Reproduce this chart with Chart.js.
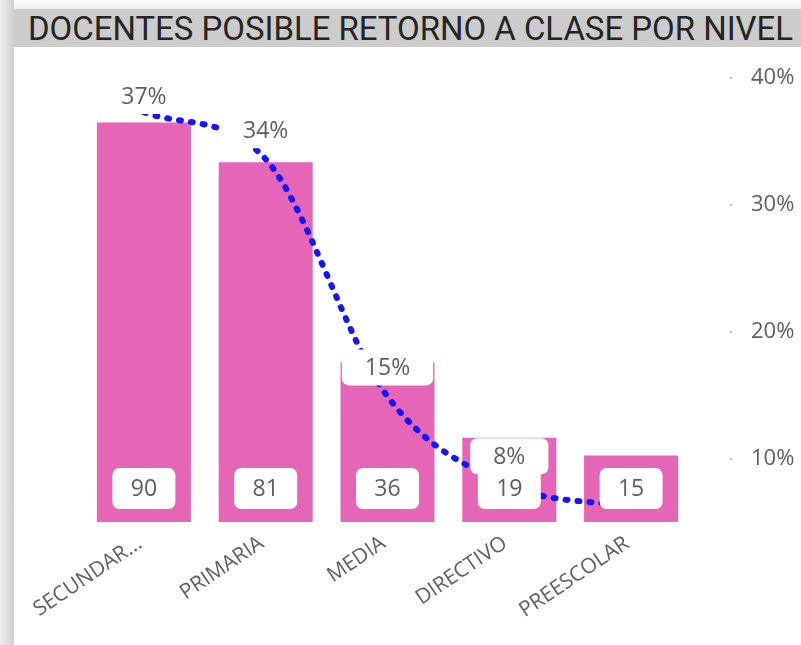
<!DOCTYPE html>
<html>
<head>
<meta charset="utf-8">
<script src="https://cdn.jsdelivr.net/npm/chart.js@4.4.1/dist/chart.umd.min.js"></script>
<style>
  html, body { margin: 0; padding: 0; background: #fff; }
  body { width: 801px; height: 645px; position: relative; overflow: hidden; }
  #shadowLeft { position: absolute; left: 0; top: 0; width: 14px; height: 645px;
    background: linear-gradient(to right, #ededed, #cfcfcf); }
  #shadowTop { position: absolute; left: 14px; top: 0; width: 787px; height: 9px;
    background: linear-gradient(to bottom, #fbfbfb, #f1f1f1); }
  #titleBar { position: absolute; left: 14px; top: 9px; width: 787px; height: 38px;
    background: #cccccc; overflow: hidden; }
  #titleText { position: absolute; left: 14px; top: 1px; white-space: nowrap;
    font-family: Roboto, "DejaVu Sans", sans-serif; font-size: 34px; line-height: 36px;
    color: #252423; transform-origin: 0 0; }
  #wrap { position: absolute; left: 14px; top: 47px; width: 787px; height: 598px; }
</style>
</head>
<body>
<div id="shadowLeft"></div>
<div id="shadowTop"></div>
<div id="titleBar"><div id="titleText">DOCENTES POSIBLE RETORNO A CLASE POR NIVEL</div></div>
<div id="wrap"><canvas id="myChart"></canvas></div>
<script>
// data
const niveles = ["SECUNDAR...", "PRIMARIA", "MEDIA", "DIRECTIVO", "PREESCOLAR"];
const docentes = [90, 81, 36, 19, 15];
const porcentaje = [37.3, 33.6, 14.9, 7.9, 6.2];
const pctTicks = [10, 20, 30, 40];
const pctSinEtiqueta = [4];

// squeeze title to the width of the original
let t = document.getElementById("titleText");
t.style.transform = "scaleX(" + (765 / t.getBoundingClientRect().width) + ")";

const labelFont = "23px 'Open Sans', 'Segoe UI', sans-serif";
const labelColor = "#605e5c";

function box(ctx, cx, cy, w, h) {
  ctx.fillStyle = "#ffffff";
  ctx.beginPath();
  ctx.roundRect(cx - w / 2, cy - h / 2, w, h, 7);
  ctx.fill();
}

const valueBoxes = {
  id: "valueBoxes",
  afterDatasetsDraw(chart) {
    const ctx = chart.ctx;
    const area = chart.chartArea;
    ctx.save();
    ctx.font = labelFont;
    ctx.textAlign = "center";
    ctx.textBaseline = "middle";
    // bar values, inside base
    chart.getDatasetMeta(1).data.forEach((bar, i) => {
      const cy = area.bottom - 13 - 20.5;
      box(ctx, bar.x, cy, 63, 41);
      ctx.fillStyle = labelColor;
      ctx.fillText(docentes[i], bar.x, cy + 1);
    });
    // line percentages, above point
    chart.getDatasetMeta(0).data.forEach((pt, i) => {
      if (pctSinEtiqueta.includes(i)) return;
      const txt = Math.round(porcentaje[i]) + "%";
      const w = ctx.measureText(txt).width + 46;
      const cy = Math.max(pt.y - 29, area.top + 18);
      box(ctx, pt.x, cy, w, 36);
      ctx.fillStyle = labelColor;
      ctx.fillText(txt, pt.x, cy + 1);
    });
    // small tick dots on the right axis
    const y2 = chart.scales.y2;
    ctx.fillStyle = "#bdbdbd";
    pctTicks.forEach(v => {
      ctx.fillRect(Math.round(area.right + 38), Math.round(y2.getPixelForValue(v)) - 1, 2, 2);
    });
    ctx.restore();
  }
};

let myChart = document.getElementById("myChart").getContext("2d");
let nivelChart = new Chart(myChart, {
  data: {
    labels: niveles,
    datasets: [
      {
        type: "line",
        label: "porcentaje",
        data: porcentaje,
        yAxisID: "y2",
        borderColor: "#1414ff",
        borderWidth: 6,
        borderDash: [2, 10],
        borderCapStyle: "round",
        cubicInterpolationMode: "monotone",
        pointRadius: 0,
        fill: false,
        order: 0,
      },
      {
        type: "bar",
        label: "docentes",
        data: docentes,
        yAxisID: "y",
        backgroundColor: "#e566b7",
        categoryPercentage: 1,
        barPercentage: 0.772,
        order: 1,
      },
    ],
  },
  options: {
    responsive: true,
    maintainAspectRatio: false,
    animation: false,
    layout: { padding: { left: 69, top: 31, right: 0, bottom: 0 } },
    plugins: {
      legend: { display: false },
      tooltip: { enabled: false },
    },
    scales: {
      x: {
        grid: { display: false },
        border: { display: false },
        ticks: {
          color: labelColor,
          font: { family: "'Open Sans', 'Segoe UI', sans-serif", size: 21 },
          minRotation: 34,
          maxRotation: 34,
          autoSkip: false,
          padding: 1,
          labelOffset: -4,
        },
        afterFit(scale) { scale.height = 123; },
      },
      y: {
        display: false,
        min: 0,
        max: 100,
      },
      y2: {
        position: "right",
        min: 5,
        max: 40,
        grid: { display: true, drawOnChartArea: false, color: "rgba(0,0,0,0)", tickLength: 56 },
        border: { display: false },
        afterBuildTicks(scale) { scale.ticks = pctTicks.map(v => ({ value: v })); },
        ticks: {
          color: labelColor,
          font: { family: "'Open Sans', 'Segoe UI', sans-serif", size: 22 },
          padding: 3,
          callback: v => v + "%",
        },
        afterFit(scale) { scale.width = 109; },
      },
    },
  },
  plugins: [valueBoxes],
});
</script>
</body>
</html>
